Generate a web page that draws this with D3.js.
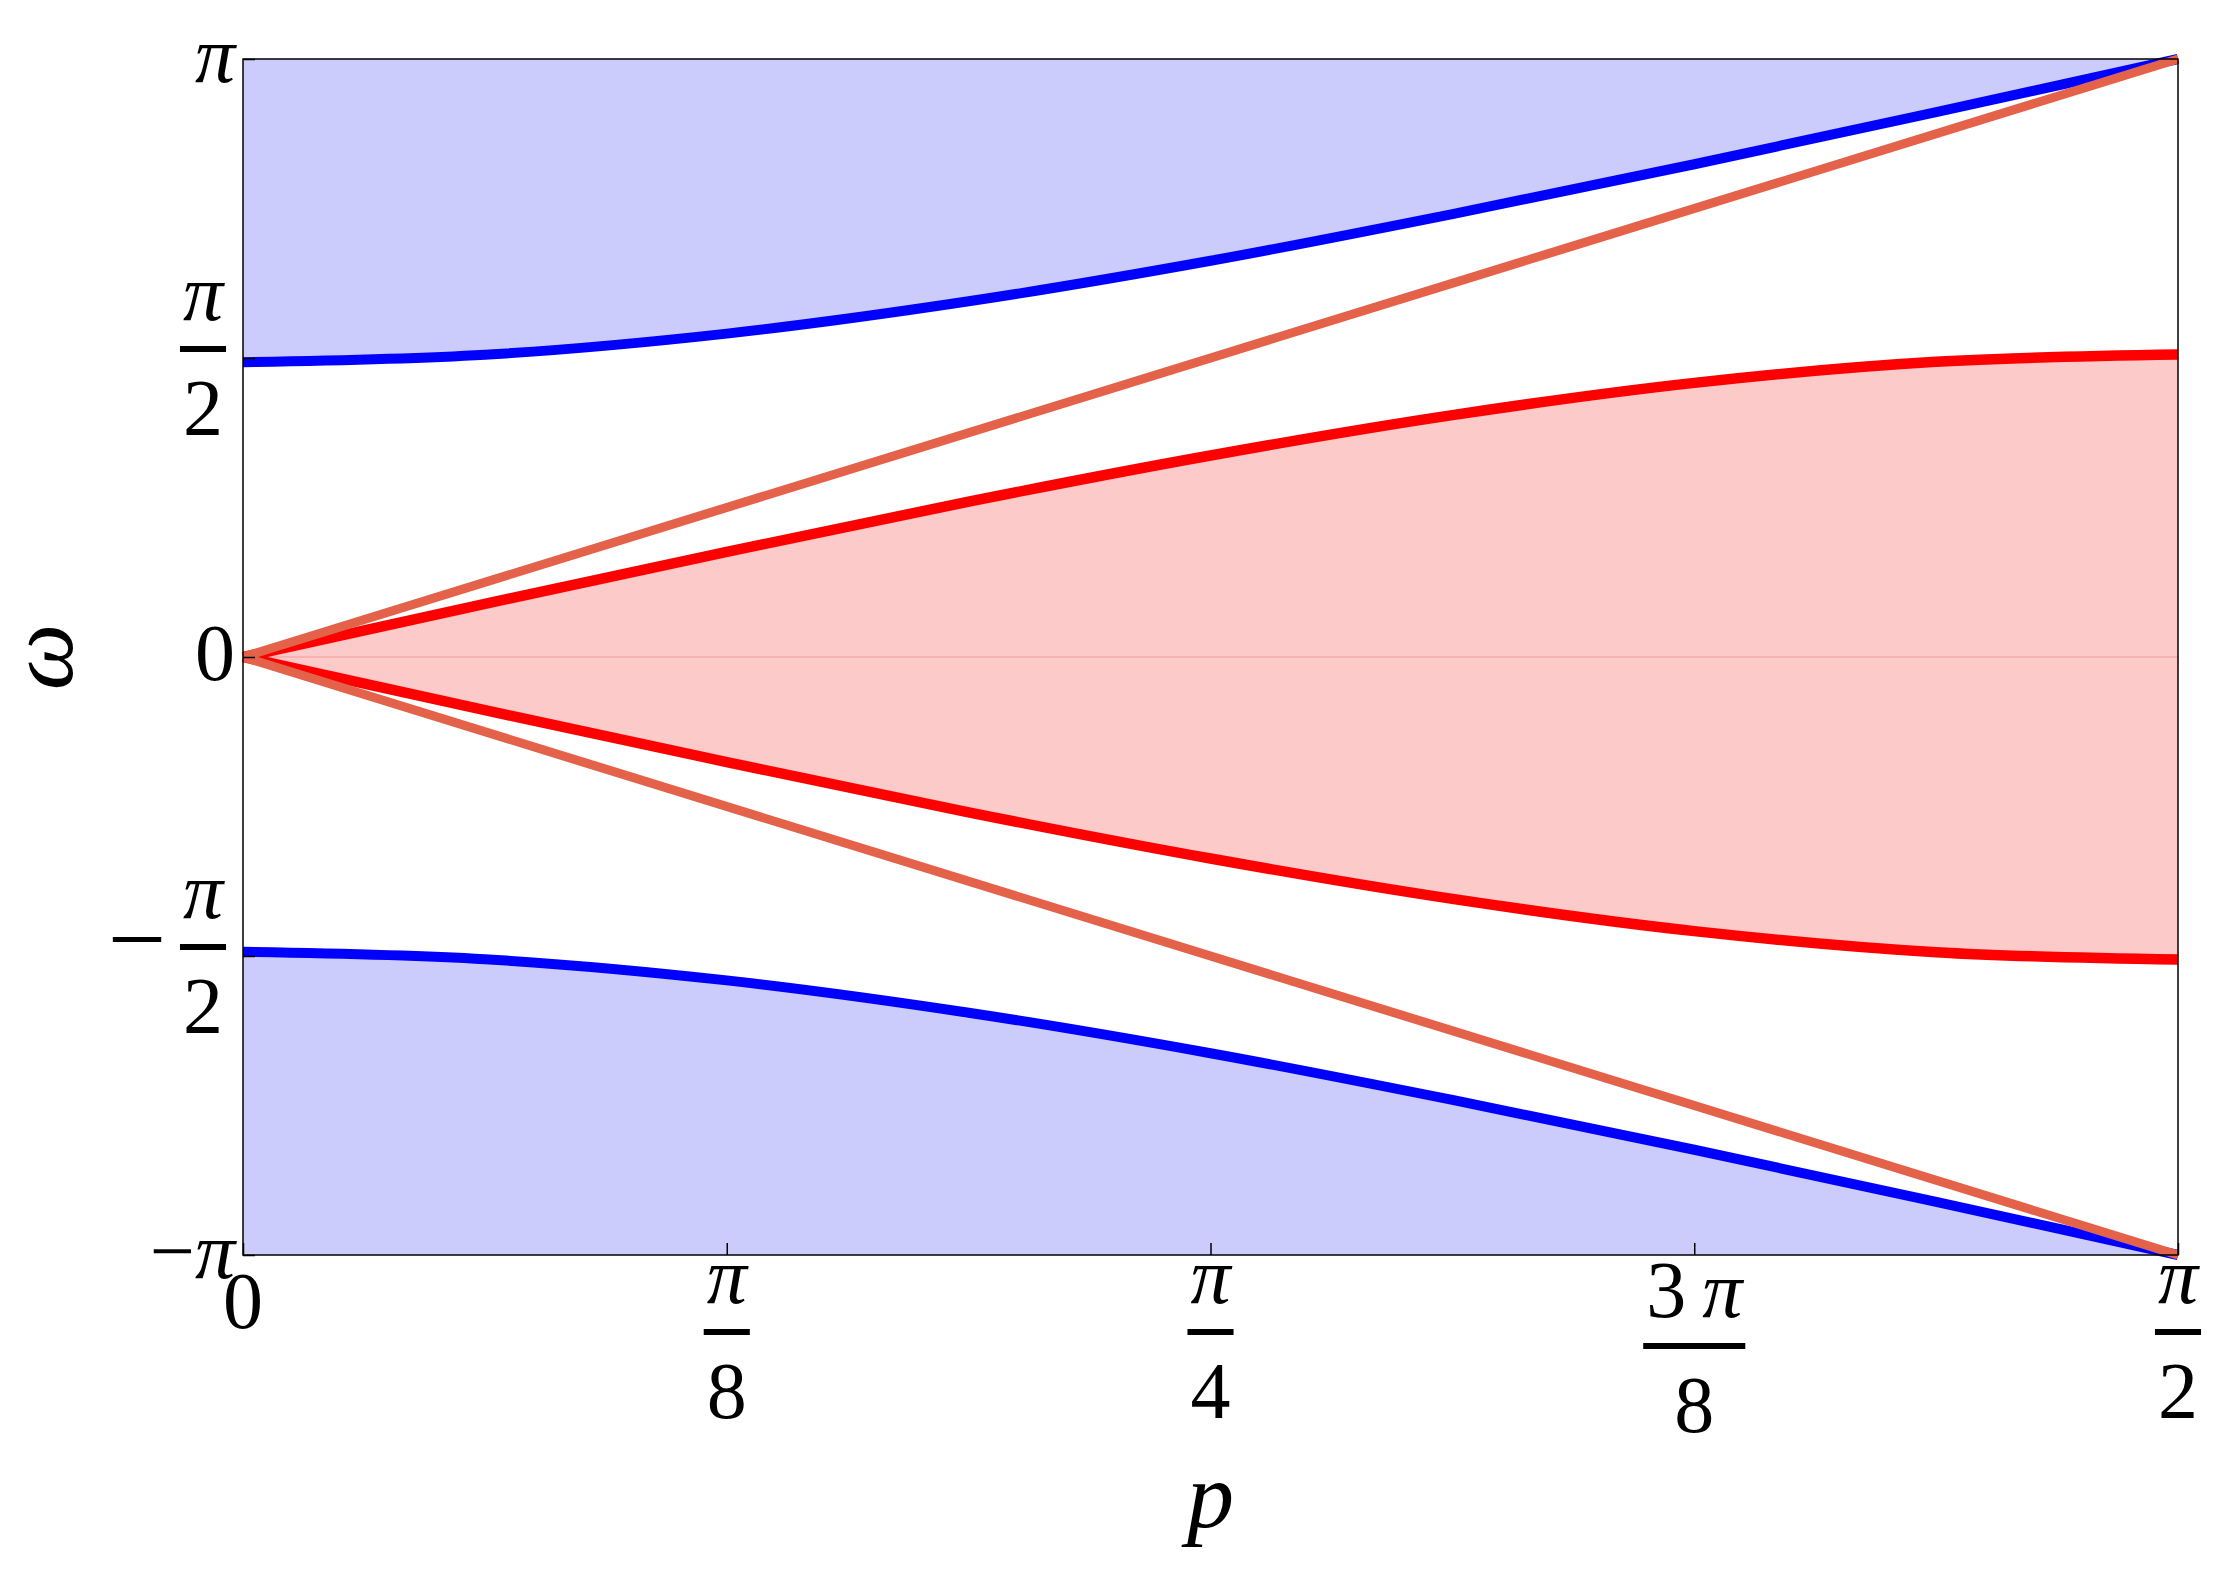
<!DOCTYPE html>
<html>
<head>
<meta charset="utf-8">
<script src="https://cdn.jsdelivr.net/npm/d3@7"></script>
<style>
  body { margin: 0; background: #fff; }
  text { font-family: "Liberation Serif", "DejaVu Serif", serif; fill: #000; }
</style>
</head>
<body>
<script>
// momentum p and frequency omega, both in units of pi
var pValues = [0, 0.0625, 0.125, 0.1875, 0.25, 0.3125, 0.375, 0.4375, 0.5];
var blueUpper = [0.493, 0.5054, 0.5408, 0.5948, 0.6626, 0.7407, 0.824, 0.9112, 1.0];
var blueLower = [-0.493, -0.5054, -0.5408, -0.5948, -0.6626, -0.7407, -0.824, -0.9112, -1.0];
var redUpper = [0, 0.0889, 0.1756, 0.2598, 0.337, 0.4045, 0.4584, 0.4937, 0.506];
var redLower = [0, -0.0889, -0.1756, -0.2598, -0.337, -0.4045, -0.4584, -0.4937, -0.506];
// straight lines omega = +-2p
var lineP = [0, 0.5];
var lineUpper = [0, 1];
var lineLower = [0, -1];

var xTicks = [0, 0.125, 0.25, 0.375, 0.5];
var xTickLabels = [["0"], ["π", "8"], ["π", "4"], ["3 π", "8"], ["π", "2"]];
var yTicks = [-1, -0.5, 0, 0.5, 1];
var yTickLabels = [["−π"], ["π", "2", "−"], ["0"], ["π", "2"], ["π"]];

var W = 2223, H = 1571;
var margin = { top: 59, right: 45, bottom: 316, left: 243 };

var x = d3.scaleLinear().domain([0, 0.5]).range([margin.left, W - margin.right]);
var y = d3.scaleLinear().domain([-1, 1]).range([H - margin.bottom, margin.top]);

var svg = d3.select("body").append("svg")
  .attr("width", W)
  .attr("height", H);

var zip = function (a, b) {
  return a.map(function (v, i) { return [v, b[i]]; });
};

// filled regions
var areaTop = d3.area()
  .x(function (d) { return x(d[0]); })
  .y0(y(1))
  .y1(function (d) { return y(d[1]); })
  .curve(d3.curveMonotoneX);
var areaBottom = d3.area()
  .x(function (d) { return x(d[0]); })
  .y0(y(-1))
  .y1(function (d) { return y(d[1]); })
  .curve(d3.curveMonotoneX);
var areaBand = d3.area()
  .x(function (d) { return x(d[0]); })
  .y0(function (d) { return y(d[2]); })
  .y1(function (d) { return y(d[1]); })
  .curve(d3.curveMonotoneX);

svg.append("path")
  .attr("d", areaTop(zip(pValues, blueUpper)))
  .attr("fill", "rgb(204,204,252)");
svg.append("path")
  .attr("d", areaBottom(zip(pValues, blueLower)))
  .attr("fill", "rgb(204,204,252)");
svg.append("path")
  .attr("d", areaBand(pValues.map(function (p, i) { return [p, redUpper[i], redLower[i]]; })))
  .attr("fill", "rgb(253,202,202)");

// zero axis line shows through the filling
svg.append("line")
  .attr("x1", x(0)).attr("x2", x(0.5))
  .attr("y1", y(0)).attr("y2", y(0))
  .attr("stroke", "rgb(245,170,170)")
  .attr("stroke-width", 1.5);

// curves
var line = d3.line()
  .x(function (d) { return x(d[0]); })
  .y(function (d) { return y(d[1]); })
  .curve(d3.curveMonotoneX);

[redUpper, redLower].forEach(function (s) {
  svg.append("path")
    .attr("d", line(zip(pValues, s)))
    .attr("fill", "none")
    .attr("stroke", "#ff0000")
    .attr("stroke-width", 10.5);
});
[blueUpper, blueLower].forEach(function (s) {
  svg.append("path")
    .attr("d", line(zip(pValues, s)))
    .attr("fill", "none")
    .attr("stroke", "#0000ff")
    .attr("stroke-width", 10);
});
[lineUpper, lineLower].forEach(function (s) {
  svg.append("path")
    .attr("d", d3.line().x(function (d) { return x(d[0]); }).y(function (d) { return y(d[1]); })(zip(lineP, s)))
    .attr("fill", "none")
    .attr("stroke", "rgb(228,98,74)")
    .attr("stroke-width", 9);
});

// frame
svg.append("rect")
  .attr("x", x(0)).attr("y", y(1))
  .attr("width", x(0.5) - x(0)).attr("height", y(-1) - y(1))
  .attr("fill", "none")
  .attr("stroke", "#000")
  .attr("stroke-width", 1.5);

// ticks (inward), labels drawn separately
var xAxis = svg.append("g")
  .attr("transform", "translate(0," + y(-1) + ")")
  .call(d3.axisBottom(x).tickValues(xTicks).tickSize(-12).tickFormat(""));
var yAxis = svg.append("g")
  .attr("transform", "translate(" + x(0) + ",0)")
  .call(d3.axisLeft(y).tickValues(yTicks).tickSize(-12).tickFormat(""));
[xAxis, yAxis].forEach(function (a) {
  a.select(".domain").remove();
  a.selectAll(".tick line").attr("stroke", "#000").attr("stroke-width", 1.5);
});

var FS = 80;

// write "3 π" style text: digits upright, pi italic
function mathText(g, str, tx, ty, anchor, size) {
  var t = g.append("text")
    .attr("x", tx).attr("y", ty)
    .attr("text-anchor", anchor)
    .attr("font-size", size || FS);
  str.split("").forEach(function (ch) {
    t.append("tspan")
      .attr("font-style", ch === "π" ? "italic" : "normal")
      .text(ch === " " ? "\u2009" : ch);
  });
  return t;
}

function fraction(g, cx, barY, num, den) {
  var n = mathText(g, num, cx, barY - 29, "middle");
  var d = mathText(g, den, cx, barY + 86, "middle");
  var w = Math.max(n.node().getComputedTextLength(), d.node().getComputedTextLength()) + 6;
  g.append("rect")
    .attr("x", cx - w / 2).attr("y", barY - 3)
    .attr("width", w).attr("height", 6)
    .attr("fill", "#000");
}

var labels = svg.append("g");

xTicks.forEach(function (v, i) {
  var lab = xTickLabels[i];
  if (lab.length === 1) {
    mathText(labels, lab[0], x(v), y(-1) + 73, "middle");
  } else {
    var shift = lab[0].length > 1 ? 14 : 0;
    fraction(labels, x(v), y(-1) + 77 + shift, lab[0], lab[1]);
  }
});

yTicks.forEach(function (v, i) {
  var lab = yTickLabels[i];
  if (lab.length === 1) {
    mathText(labels, lab[0], x(0) - 8, y(v) + 23, "end");
  } else {
    fraction(labels, x(0) - 40, y(v) - 9, lab[0], lab[1]);
    if (lab[2]) {
      mathText(labels, lab[2], x(0) - 106, y(v) + 18, "middle", 104);
    }
  }
});

// axis titles
svg.append("text")
  .attr("transform", "translate(72," + y(0) + ") rotate(-90)")
  .attr("text-anchor", "middle")
  .attr("font-size", 94)
  .attr("font-style", "italic")
  .text("ω");
svg.append("text")
  .attr("x", x(0.25))
  .attr("y", 1527)
  .attr("text-anchor", "middle")
  .attr("font-size", 94)
  .attr("font-style", "italic")
  .text("p");
</script>
</body>
</html>
